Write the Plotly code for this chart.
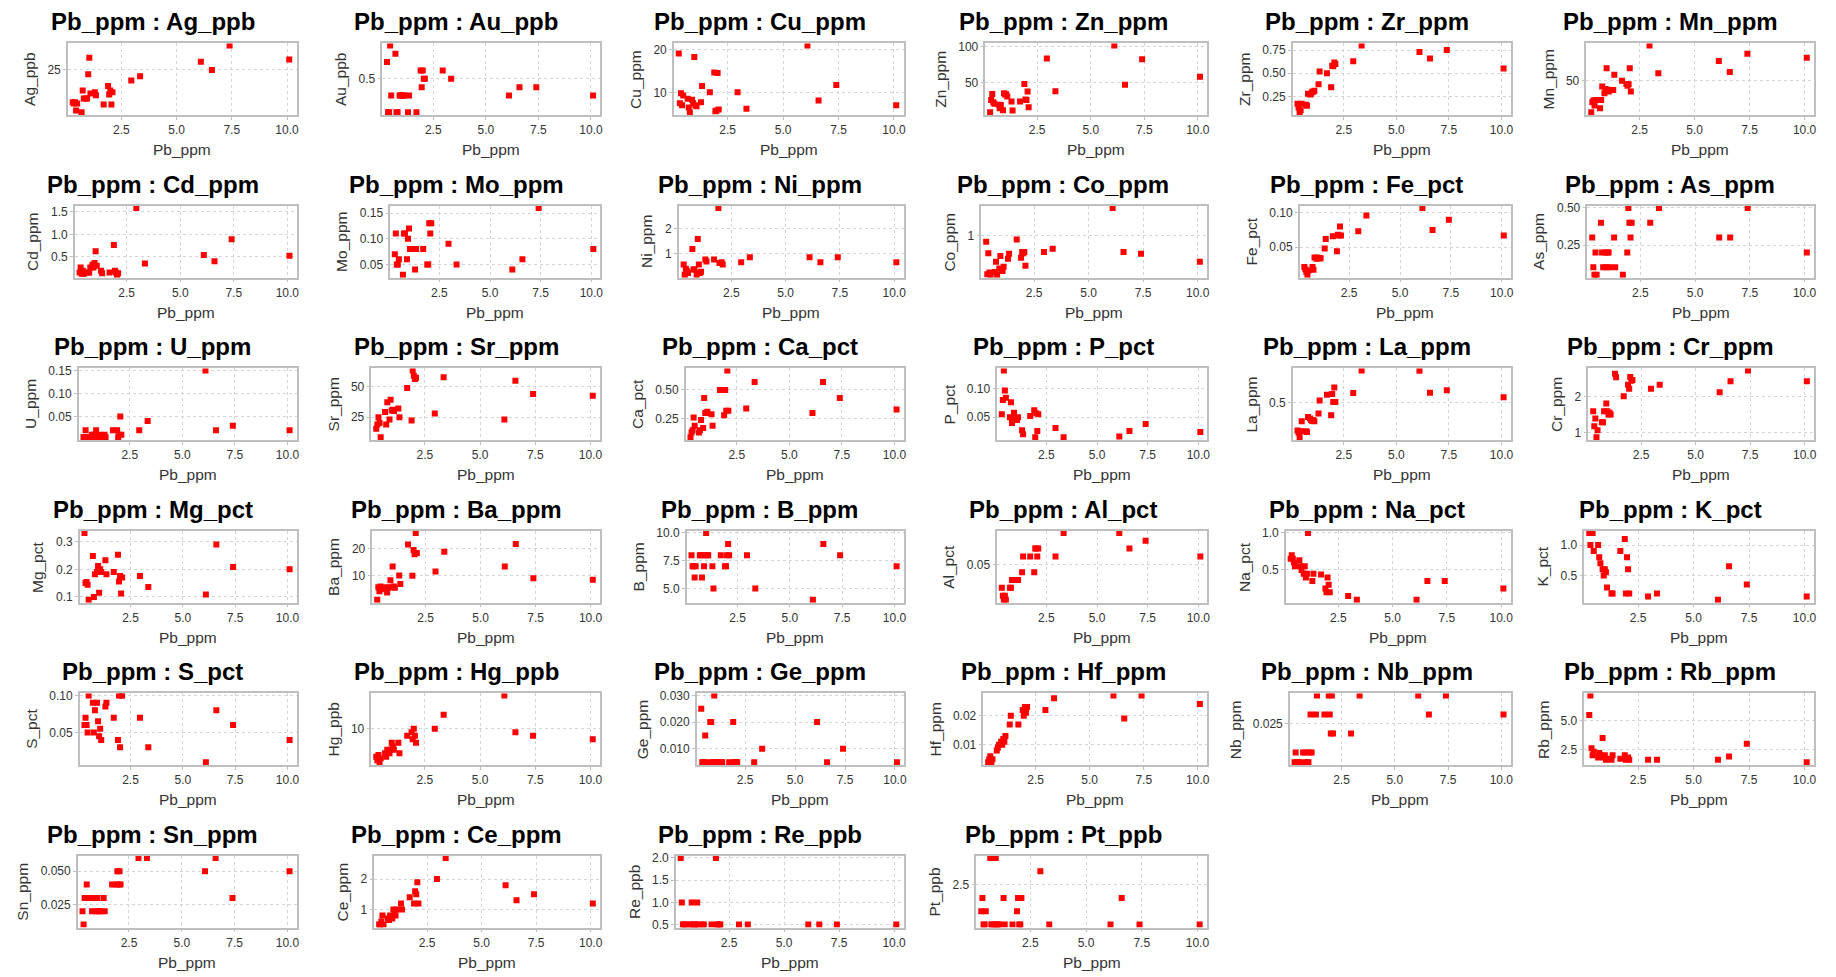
import plotly.graph_objects as go

W, H = 1836, 977

# Lead content of each sample (shared x variable)
pb_ppm = [0.3, 0.35, 0.4, 0.45, 0.5, 0.7, 0.75, 0.8, 0.9, 0.95, 1.0, 1.05, 1.1, 1.3, 1.35,
          1.7, 1.9, 1.95, 2.0, 2.05, 2.1, 2.95, 3.35, 6.1, 6.6, 7.4, 10.1]

ag_ppb = [8.7, 8.0, 8.7, 4.5, 8.0, 3.7, 14.5, 10.5, 10.5, 10.5, 22.6, 30.8, 13.0, 13.7, 12.2,
          7.5, 16.7, 12.5, 14.5, 7.5, 13.7, 19.5, 21.6, 28.8, 24.7, 37.0, 30.0]
au_ppb = [0.7, 0.1, 0.1, 0.9, 0.3, 0.8, 0.1, 0.1, 0.3, 0.3, 0.3, 0.3, 0.3, 0.1, 0.3,
          0.1, 0.6, 0.4, 0.6, 0.5, 0.5, 0.6, 0.5, 0.3, 0.4, 0.4, 0.3]
cu_ppm = [19.0, 7.5, 9.8, 7.0, 9.3, 8.5, 6.5, 5.4, 8.3, 7.5, 18.2, 7.0, 6.8, 7.7, 11.5,
          10.0, 14.6, 5.6, 5.8, 14.5, 6.0, 10.0, 6.2, 20.9, 8.1, 11.7, 7.0]
zn_ppm = [7.9, 25.0, 33.6, 22.0, 19.6, 18.2, 13.5, 18.0, 10.5, 34.6, 32.7, 33.0, 30.0, 22.9, 10.3,
          22.9, 47.7, 25.7, 25.0, 36.9, 15.0, 83.6, 37.4, 102.0, 46.7, 82.7, 57.9]
zr_ppm = [0.17, 0.13, 0.08, 0.10, 0.17, 0.16, 0.15, 0.28, 0.27, 0.28, 0.30, 0.30, 0.31, 0.38, 0.52,
          0.50, 0.35, 0.58, 0.575, 0.615, 0.60, 0.63, 0.80, 0.73, 0.66, 0.75, 0.55]
mn_ppm = [14.5, 25.7, 27.6, 22.0, 28.3, 19.0, 28.3, 43.6, 35.8, 40.6, 64.2, 40.0, 38.0, 39.5, 56.7,
          50.0, 46.3, 44.4, 46.0, 64.2, 38.0, 90.0, 58.6, 72.4, 60.0, 80.7, 76.2]
cd_ppm = [0.15, 0.26, 0.12, 0.19, 0.12, 0.15, 0.15, 0.26, 0.32, 0.26, 0.36, 0.62, 0.30, 0.19, 0.13,
          0.15, 0.76, 0.19, 0.15, 0.10, 0.13, 1.59, 0.35, 0.54, 0.40, 0.89, 0.52]
mo_ppm = [0.07, 0.11, 0.05, 0.05, 0.06, 0.03, 0.11, 0.11, 0.06, 0.10, 0.12, 0.08, 0.08, 0.04, 0.08,
          0.08, 0.05, 0.05, 0.13, 0.11, 0.13, 0.09, 0.05, 0.04, 0.06, 0.16, 0.08]
ni_ppm = [0.58, 0.18, 0.41, 0.32, 0.25, 1.2, 0.38, 0.38, 0.18, 1.59, 0.58, 0.25, 0.30, 0.78, 0.70,
          0.78, 2.82, 0.64, 0.64, 0.67, 0.58, 0.67, 0.87, 0.87, 0.67, 0.87, 0.67]
co_ppm = [0.86, 0.13, 0.60, 0.17, 0.12, 0.18, 0.41, 0.12, 0.26, 0.54, 0.21, 0.20, 0.30, 0.48, 0.59,
          0.91, 0.50, 0.63, 0.60, 0.63, 0.32, 0.63, 0.70, 1.62, 0.63, 0.59, 0.41]
fe_pct = [0.021, 0.018, 0.014, 0.010, 0.016, 0.021, 0.017, 0.035, 0.033, 0.035, 0.034, 0.034, 0.034,
          0.048, 0.062, 0.066, 0.044, 0.068, 0.067, 0.080, 0.067, 0.073, 0.096, 0.107, 0.075, 0.090, 0.067]
as_ppm = [0.3, 0.1, 0.05, 0.2, 0.05, 0.4, 0.2, 0.1, 0.2, 0.1, 0.2, 0.2, 0.1, 0.3, 0.1,
          0.05, 0.2, 0.5, 0.4, 0.3, 0.4, 0.4, 0.5, 0.3, 0.3, 0.5, 0.2]
u_ppm = [0.005, 0.005, 0.02, 0.005, 0.005, 0.01, 0.005, 0.01, 0.02, 0.005, 0.005, 0.01, 0.005, 0.01,
         0.005, 0.02, 0.02, 0.005, 0.01, 0.05, 0.01, 0.02, 0.04, 0.15, 0.02, 0.03, 0.02]
sr_ppm = [15.6, 19.1, 25.0, 20.4, 8.9, 29.3, 19.1, 37.1, 23.1, 39.2, 30.4, 31.0, 30.0, 32.0, 25.0,
          48.7, 22.3, 62.9, 58.6, 55.9, 57.0, 28.0, 57.3, 23.1, 54.6, 43.8, 42.5]
ca_pct = [0.09, 0.13, 0.15, 0.26, 0.19, 0.13, 0.15, 0.24, 0.17, 0.43, 0.30, 0.30, 0.31, 0.29, 0.19,
          0.50, 0.28, 0.50, 0.32, 0.67, 0.32, 0.34, 0.57, 0.30, 0.57, 0.43, 0.33]
p_pct = [0.055, 0.08, 0.132, 0.097, 0.084, 0.05, 0.076, 0.04, 0.058, 0.046, 0.048, 0.045, 0.05, 0.027,
         0.02, 0.052, 0.062, 0.015, 0.057, 0.026, 0.055, 0.031, 0.015, 0.016, 0.026, 0.038, 0.024]
la_ppm = [0.178, 0.151, 0.10, 0.17, 0.287, 0.17, 0.16, 0.337, 0.318, 0.30, 0.29, 0.30, 0.287, 0.376,
          0.527, 0.597, 0.357, 0.605, 0.51, 0.68, 0.51, 0.616, 0.88, 0.876, 0.62, 0.647, 0.566]
cr_ppm = [1.59, 1.18, 1.39, 0.88, 1.07, 1.29, 1.29, 1.59, 1.8, 1.59, 1.5, 1.55, 1.5, 2.62, 2.52,
          2.0, 2.32, 2.21, 2.53, 2.43, 2.45, 2.21, 2.32, 2.11, 2.41, 2.71, 2.41]
mg_pct = [0.332, 0.15, 0.154, 0.144, 0.09, 0.248, 0.10, 0.182, 0.19, 0.212, 0.115, 0.20, 0.19, 0.233,
          0.182, 0.19, 0.253, 0.156, 0.176, 0.112, 0.17, 0.176, 0.136, 0.109, 0.29, 0.208, 0.20]
ba_ppm = [1.1, 5.7, 4.2, 6.0, 5.0, 5.7, 3.8, 5.5, 8.3, 5.7, 13.5, 6.0, 5.5, 10.1, 6.9,
          21.7, 10.0, 19.6, 18.0, 26.0, 18.5, 11.6, 19.0, 13.5, 21.9, 9.1, 8.5]
b_ppm = [8, 7, 7, 6, 7, 8, 8, 6, 7, 8, 10, 8, 8, 7, 5, 8, 7, 7, 8, 9, 8, 8, 5, 4, 9, 8, 7]
al_pct = [0.02, 0.01, 0.005, 0.01, 0.005, 0.02, 0.02, 0.03, 0.03, 0.03, 0.03, 0.03, 0.03, 0.04, 0.06,
          0.06, 0.04, 0.07, 0.07, 0.06, 0.07, 0.06, 0.09, 0.09, 0.07, 0.08, 0.06]
na_pct = [0.65, 0.7, 0.65, 0.6, 0.55, 0.63, 0.55, 0.5, 0.45, 0.55, 0.4, 0.45, 1.0, 0.35, 0.45,
          0.44, 0.25, 0.2, 0.4, 0.3, 0.2, 0.15, 0.1, 0.1, 0.35, 0.35, 0.25]
k_pct = [1.2, 1.0, 1.2, 1.2, 0.9, 1.0, 0.8, 0.7, 0.6, 0.5, 0.6, 0.55, 0.3, 0.2, 0.2,
         0.9, 1.1, 0.2, 0.8, 0.6, 0.2, 0.15, 0.2, 0.1, 0.65, 0.35, 0.15]
s_pct = [0.06, 0.07, 0.06, 0.05, 0.1, 0.09, 0.05, 0.08, 0.09, 0.065, 0.045, 0.055, 0.04, 0.085, 0.09,
         0.07, 0.04, 0.1, 0.03, 0.1, 0.1, 0.07, 0.03, 0.01, 0.08, 0.06, 0.04]
hg_ppb = [2, 1, 2.5, 0.5, 1.5, 3, 2, 4, 3, 4, 6, 5, 4, 6, 3, 8, 9, 7, 10, 8, 6, 10, 14, 19.5, 9, 8, 7]
ge_ppm = [0.025, 0.005, 0.005, 0.005, 0.015, 0.005, 0.02, 0.02, 0.005, 0.03, 0.005, 0.005, 0.005,
          0.005, 0.005, 0.005, 0.02, 0.005, 0.005, 0.005, 0.005, 0.005, 0.01, 0.02, 0.005, 0.01, 0.005]
hf_ppm = [0.004, 0.005, 0.006, 0.004, 0.005, 0.008, 0.009, 0.010, 0.011, 0.010, 0.012, 0.011, 0.013,
          0.017, 0.02, 0.017, 0.022, 0.02, 0.023, 0.021, 0.023, 0.022, 0.026, 0.027, 0.019, 0.027, 0.024]
nb_ppm = [0.005, 0.01, 0.005, 0.005, 0.005, 0.01, 0.005, 0.01, 0.005, 0.005, 0.01, 0.03, 0.01, 0.03,
          0.04, 0.03, 0.04, 0.03, 0.02, 0.04, 0.02, 0.02, 0.04, 0.04, 0.03, 0.04, 0.03]
rb_ppm = [5.5, 7.2, 2.6, 2.0, 2.3, 1.8, 2.2, 2.0, 3.5, 1.8, 2.0, 1.6, 1.7, 1.6, 2.0,
          1.7, 2.0, 1.6, 1.7, 1.8, 1.6, 1.6, 1.6, 1.6, 1.9, 3.0, 1.4]
sn_ppm = [0.02, 0.01, 0.03, 0.03, 0.04, 0.03, 0.02, 0.03, 0.03, 0.02, 0.03, 0.02, 0.02, 0.03, 0.02,
          0.04, 0.04, 0.05, 0.04, 0.05, 0.04, 0.06, 0.06, 0.05, 0.06, 0.03, 0.05]
ce_ppm = [0.5, 0.5, 0.6, 0.8, 0.5, 0.7, 0.65, 0.8, 0.7, 1.0, 0.9, 0.8, 1.0, 1.2, 1.0,
          1.4, 1.2, 1.6, 1.5, 1.9, 1.2, 2.0, 2.7, 1.8, 1.3, 1.5, 1.2]
re_ppb = [2.0, 1.0, 0.5, 0.5, 0.5, 0.5, 0.5, 1.0, 0.5, 0.5, 0.5, 1.0, 0.5, 0.5, 0.5,
          0.5, 2.0, 0.5, 0.5, 0.5, 0.5, 0.5, 0.5, 0.5, 0.5, 0.5, 0.5]
pt_ppb = [1.5, 2.0, 1.0, 1.0, 1.5, 3.5, 1.0, 1.0, 1.0, 3.5, 1.0, 1.0, 1.0, 2.0, 1.0,
          1.0, 1.5, 2.0, 1.0, 1.0, 2.0, 3.0, 1.0, 1.0, 2.0, 1.0, 1.0]

x_tick_labels = ["2.5", "5.0", "7.5", "10.0"]

# (variable name, values, y tick labels)
panels = [
    ("Ag_ppb", ag_ppb, ["25"]),
    ("Au_ppb", au_ppb, ["0.5"]),
    ("Cu_ppm", cu_ppm, ["10", "20"]),
    ("Zn_ppm", zn_ppm, ["50", "100"]),
    ("Zr_ppm", zr_ppm, ["0.25", "0.50", "0.75"]),
    ("Mn_ppm", mn_ppm, ["50"]),
    ("Cd_ppm", cd_ppm, ["0.5", "1.0", "1.5"]),
    ("Mo_ppm", mo_ppm, ["0.05", "0.10", "0.15"]),
    ("Ni_ppm", ni_ppm, ["1", "2"]),
    ("Co_ppm", co_ppm, ["1"]),
    ("Fe_pct", fe_pct, ["0.05", "0.10"]),
    ("As_ppm", as_ppm, ["0.25", "0.50"]),
    ("U_ppm", u_ppm, ["0.05", "0.10", "0.15"]),
    ("Sr_ppm", sr_ppm, ["25", "50"]),
    ("Ca_pct", ca_pct, ["0.25", "0.50"]),
    ("P_pct", p_pct, ["0.05", "0.10"]),
    ("La_ppm", la_ppm, ["0.5"]),
    ("Cr_ppm", cr_ppm, ["1", "2"]),
    ("Mg_pct", mg_pct, ["0.1", "0.2", "0.3"]),
    ("Ba_ppm", ba_ppm, ["10", "20"]),
    ("B_ppm", b_ppm, ["5.0", "7.5", "10.0"]),
    ("Al_pct", al_pct, ["0.05"]),
    ("Na_pct", na_pct, ["0.5", "1.0"]),
    ("K_pct", k_pct, ["0.5", "1.0"]),
    ("S_pct", s_pct, ["0.05", "0.10"]),
    ("Hg_ppb", hg_ppb, ["10"]),
    ("Ge_ppm", ge_ppm, ["0.010", "0.020", "0.030"]),
    ("Hf_ppm", hf_ppm, ["0.01", "0.02"]),
    ("Nb_ppm", nb_ppm, ["0.025"]),
    ("Rb_ppm", rb_ppm, ["2.5", "5.0"]),
    ("Sn_ppm", sn_ppm, ["0.025", "0.050"]),
    ("Ce_ppm", ce_ppm, ["1", "2"]),
    ("Re_ppb", re_ppb, ["0.5", "1.0", "1.5", "2.0"]),
    ("Pt_ppb", pt_ppb, ["2.5"]),
]

# left edge (px) of each plot area; right edges follow the 304 px column pitch
plot_left = [68, 383, 675, 987, 1295, 1589,
             75, 391, 680, 983, 1302, 1590,
             79, 372, 687, 999, 1295, 1591,
             80, 373, 688, 999, 1288, 1587,
             80, 372, 698, 985, 1292, 1587,
             78, 375, 677, 978]

FONT = "Liberation Sans, Arial, sans-serif"
GRID = "#d4d4d4"
FRAME = "#bfbfbf"
TXT = "#333333"


def label_width(s, size=12):
    # approximate rendered width of a numeric tick label
    return sum(0.278 if ch == "." else 0.556 for ch in s) * size


fig = go.Figure()
layout = dict(
    width=W, height=H, autosize=False,
    margin=dict(l=0, r=0, t=0, b=0),
    paper_bgcolor="white", plot_bgcolor="white",
    showlegend=False,
    font=dict(family=FONT, color=TXT),
)
annotations = []

for i, (name, vals, yticks) in enumerate(panels):
    k = i + 1
    row, col = divmod(i, 6)
    left = plot_left[i]
    right = 297 + 304 * col
    top = 38.8 + 164 * row
    bottom = 111.2 + 164 * row

    xs = "x" if k == 1 else f"x{k}"
    ys = "y" if k == 1 else f"y{k}"
    xkey = "xaxis" if k == 1 else f"xaxis{k}"
    ykey = "yaxis" if k == 1 else f"yaxis{k}"

    fig.add_trace(go.Scatter(
        x=pb_ppm, y=vals, mode="markers", xaxis=xs, yaxis=ys,
        marker=dict(symbol="square", size=6, color="#ff0000", line=dict(width=0)),
        hovertemplate="Pb_ppm=%{x}<br>" + name + "=%{y}<extra></extra>",
    ))

    lo, hi = min(vals), max(vals)
    span = hi - lo
    axis_common = dict(
        showgrid=True, gridcolor=GRID, gridwidth=1, griddash="3px,3px",
        showline=True, linecolor=FRAME, linewidth=1.5, mirror=True,
        zeroline=False, ticks="outside", ticklen=3, tickcolor=FRAME,
        tickfont=dict(family=FONT, size=12, color=TXT),
        fixedrange=True,
    )
    layout[xkey] = dict(
        domain=[left / W, right / W], anchor=ys, range=[0.08, 10.43],
        tickvals=[float(t) for t in x_tick_labels], ticktext=x_tick_labels,
        **axis_common,
    )
    layout[ykey] = dict(
        domain=[1 - bottom / H, 1 - top / H], anchor=xs,
        range=[lo - 0.045 * span, hi + 0.03 * span],
        tickvals=[float(t) for t in yticks], ticktext=yticks,
        **axis_common,
    )

    # panel title
    annotations.append(dict(
        text=f"<b>Pb_ppm : {name}</b>", x=(right - 144) / W, y=1 - (17 + 164 * row) / H,
        xref="paper", yref="paper", xanchor="center", yanchor="middle", showarrow=False,
        font=dict(family=FONT, size=24, color="black"),
    ))
    # x axis title
    annotations.append(dict(
        text="Pb_ppm", x=(left + right) / 2 / W, y=1 - (146 + 164 * row) / H,
        xref="paper", yref="paper", xanchor="center", yanchor="middle", showarrow=False,
        font=dict(family=FONT, size=15.5, color=TXT),
    ))
    # y axis title, placed just outside the widest tick label
    lw = max(label_width(t) for t in yticks)
    annotations.append(dict(
        text=name, x=(left - lw - 25) / W, y=1 - ((top + bottom) / 2) / H, textangle=-90,
        xref="paper", yref="paper", xanchor="center", yanchor="middle", showarrow=False,
        font=dict(family=FONT, size=15.5, color=TXT),
    ))

layout["annotations"] = annotations
fig.update_layout(**layout)
fig.write_html("out.html")
